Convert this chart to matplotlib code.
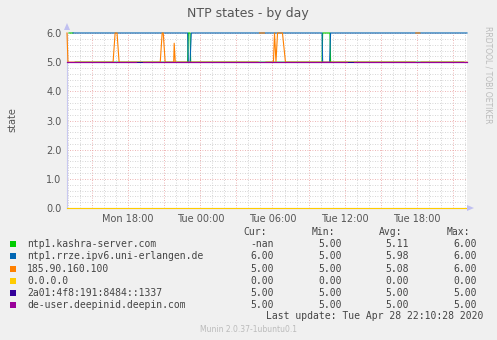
import matplotlib.pyplot as plt
import numpy as np

nan = np.nan

# hours since Mon 00:00
t_start, t_end = 12.92, 46.17

kashra_t = [13.08, 13.42, 13.5, 13.6, 22.95, 23.0, 23.15, 23.2, 34.12, 34.17, 34.78, 34.83, 45.9]
kashra_v = [6, 6, nan, 5, 5, 6, 6, 5, 5, 6, 6, 5, 5]

rrze_t = [13.42, 22.95, 23.0, 23.15, 23.25, 34.12, 34.17, 34.75, 34.83, 46.17]
rrze_v = [6, 6, 5, 5, 6, 6, 5, 5, 6, 6]

ip185_t = [12.92, 13.0, 16.75, 16.92, 17.08, 17.25, 20.67, 20.83, 20.92, 21.08,
           21.79, 21.83, 21.92, 28.8, 28.85, 28.92, 29.33, 29.4, 29.45, 30.08,
           30.17, 30.29, 30.42, 30.83, 31.08, 41.85, 41.88, 41.92, 42.25, 42.3,
           42.35, 46.17]
ip185_v = [6, 5, 5, 6, 6, 5, 5, 6, 6, 5,
           5, 5.65, 5, 5, nan, 6, 6, nan, 5, 5,
           6, 5, 6, 6, 5, 5, nan, 6, 6, nan,
           5, 5]

zero_t = [t_start, t_end]
zero_v = [0, 0]

v6_t = [t_start, t_end]
v6_v = [5, 5]

deepin_t = [12.92, 18.67, 18.7, 19.25, 36.17, 36.2, 36.75, 46.17]
deepin_v = [5, 5, nan, 5, 5, nan, 5, 5]

names = ["ntp1.kashra-server.com", "ntp1.rrze.ipv6.uni-erlangen.de", "185.90.160.100",
         "0.0.0.0", "2a01:4f8:191:8484::1337", "de-user.deepinid.deepin.com"]
colors = ["#00cc00", "#0066b3", "#ff8000", "#ffcc00", "#330099", "#990099"]
cur = ["-nan", "6.00", "5.00", "0.00", "5.00", "5.00"]
mins = ["5.00", "5.00", "5.00", "0.00", "5.00", "5.00"]
avgs = ["5.11", "5.98", "5.08", "0.00", "5.00", "5.00"]
maxs = ["6.00", "6.00", "6.00", "0.00", "5.00", "5.00"]

tick_hours = [18, 24, 30, 36, 42]
tick_labels = ["Mon 18:00", "Tue 00:00", "Tue 06:00", "Tue 12:00", "Tue 18:00"]

W, H = 497, 340
fig = plt.figure(figsize=(W / 100, H / 100), dpi=100, facecolor="#f0f0f0")
ax = fig.add_axes([67 / W, 1 - 208 / H, 400 / W, 175 / H])
ax.set_facecolor("white")

series = [(kashra_t, kashra_v), (rrze_t, rrze_v), (ip185_t, ip185_v),
          (zero_t, zero_v), (v6_t, v6_v), (deepin_t, deepin_v)]
for (t, v), c in zip(series, colors):
    ax.plot(t, v, color=c, lw=0.8, zorder=3, clip_on=False)

ax.set_xlim(t_start, t_end)
ax.set_ylim(0, 6)

# grid
for h in np.arange(13, 47, 1):
    if h % 3 == 0:
        ax.axvline(h, color="#e89a9a", lw=0.6, ls=(0, (1, 2)), zorder=1)
    else:
        ax.axvline(h, color="#c8c8c8", lw=0.6, ls=(0, (1, 2)), zorder=1)
for y in np.arange(0.2, 6.01, 0.2):
    if abs(y - round(y)) < 1e-6:
        ax.axhline(y, color="#e89a9a", lw=0.6, ls=(0, (1, 2)), zorder=1)
    else:
        ax.axhline(y, color="#c8c8c8", lw=0.6, ls=(0, (1, 2)), zorder=1)

ax.set_xticks(tick_hours)
ax.set_xticklabels(tick_labels)
ax.set_yticks(np.arange(0, 7, 1))
ax.set_yticklabels(["%.1f" % v for v in range(7)])
ax.tick_params(length=0, labelsize=7, colors="#555555", pad=4)
for s in ["top", "right"]:
    ax.spines[s].set_visible(False)
ax.spines["left"].set_color("#c8c8f0")
ax.spines["bottom"].set_color("#c8c8f0")

# axis arrows
arrow_c = "#c0c0f0"
fig.patches.append(plt.Polygon([[64 / W, 1 - 30 / H], [70 / W, 1 - 30 / H], [67 / W, 1 - 23 / H]],
                               closed=True, transform=fig.transFigure, facecolor=arrow_c, edgecolor="none"))
fig.patches.append(plt.Polygon([[467 / W, 1 - 205 / H], [467 / W, 1 - 211 / H], [474 / W, 1 - 208 / H]],
                               closed=True, transform=fig.transFigure, facecolor=arrow_c, edgecolor="none"))

fig.text(248 / W, 1 - 13 / H, "NTP states - by day", ha="center", va="center", fontsize=9, color="#555555")
fig.text(12 / W, 1 - 120 / H, "state", rotation=90, ha="center", va="center", fontsize=7, color="#555555")
fig.text(488 / W, 1 - 26 / H, "RRDTOOL / TOBI OETIKER", rotation=270, ha="center", va="top",
         fontsize=5.5, color="#bbbbbb")

mono = "DejaVu Sans Mono"
tc = "#444444"
hy = 1 - 232 / H
for lab, x in zip(["Cur:", "Min:", "Avg:", "Max:"], [267, 335, 402, 470]):
    fig.text(x / W, hy, lab, ha="right", va="center", fontsize=7, family=mono, color=tc)

for i, name in enumerate(names):
    y = 1 - (244.3 + 12.1 * i) / H
    fig.patches.append(plt.Rectangle((10 / W, y - 3 / H), 6 / W, 6 / H, transform=fig.transFigure,
                                     facecolor=colors[i], edgecolor="none"))
    fig.text(27 / W, y, name, ha="left", va="center", fontsize=7, family=mono, color=tc)
    for val, x in zip([cur[i], mins[i], avgs[i], maxs[i]], [274, 342, 409, 477]):
        fig.text(x / W, y, val, ha="right", va="center", fontsize=7, family=mono, color=tc)

fig.text(483 / W, 1 - 316 / H, "Last update: Tue Apr 28 22:10:28 2020", ha="right", va="center",
         fontsize=7, family=mono, color=tc)
fig.text(248 / W, 1 - 329 / H, "Munin 2.0.37-1ubuntu0.1", ha="center", va="center",
         fontsize=5.5, color="#bbbbbb")

fig.savefig("out.png", dpi=100, facecolor=fig.get_facecolor())
